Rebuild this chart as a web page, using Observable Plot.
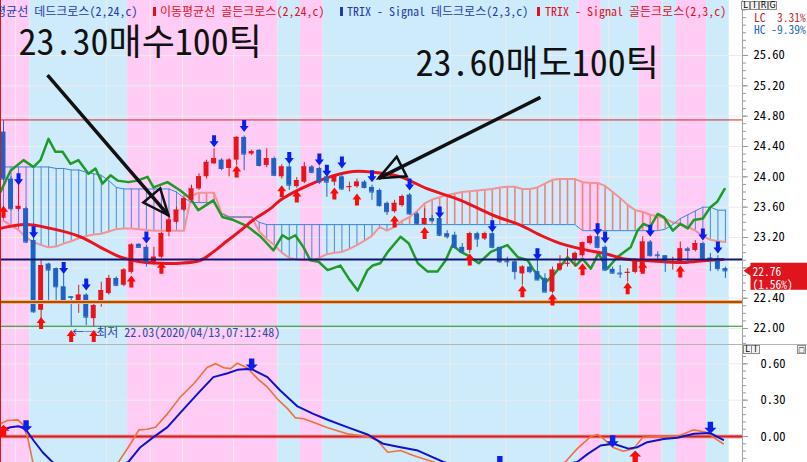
<!DOCTYPE html>
<html><head><meta charset="utf-8">
<script src="https://cdn.jsdelivr.net/npm/d3@7"></script>
<script src="https://cdn.jsdelivr.net/npm/@observablehq/plot@0.6"></script>
<style>
body{margin:0;background:#fff}
#wrap{position:relative;width:807px;height:462px;overflow:hidden;background:#fff}
.abs{position:absolute;white-space:pre}
.leg{position:absolute;white-space:pre;font-family:"Noto Sans Mono CJK KR","Noto Sans CJK KR",sans-serif;font-size:12px;line-height:12px;top:5px}
.mk{position:absolute;top:7px;width:3px;height:9px}
.box{position:absolute;border:1px solid #8c8c8c;background:#f2f2f2;font:8px/8px "DejaVu Sans",sans-serif;text-align:center;color:#000;box-sizing:border-box;width:9px;height:9px}
.hl{position:absolute;white-space:pre;font-family:"Noto Sans Mono CJK KR","DejaVu Sans Mono",monospace;font-size:11.5px;line-height:11px;left:754px}
</style></head><body>
<div id="wrap">
  <div id="top" style="position:absolute;left:0;top:0"></div>
  <div class="abs" style="left:0;top:344px;width:807px;height:1px;background:#b4b4b4"></div>
  <div id="bot" style="position:absolute;left:0;top:345px"></div>
  <div class="abs" style="left:742px;top:0;width:1px;height:462px;background:#a4a4a4"></div>
  <div class="abs" style="left:0;top:0;width:1px;height:462px;background:#e01414"></div>
  <div class="leg" style="left:-27px;color:#1e3ca8">이동평균선 데드크로스(2,24,c)</div>
  <div class="mk" style="left:153px;background:#e0101e"></div>
  <div class="leg" style="left:160px;color:#e0101e">이동평균선 골든크로스(2,24,c)</div>
  <div class="mk" style="left:340px;background:#1e3ca8"></div>
  <div class="leg" style="left:347px;color:#1e3ca8">TRIX - Signal 데드크로스(2,3,c)</div>
  <div class="mk" style="left:537px;background:#e0101e"></div>
  <div class="leg" style="left:545px;color:#e0101e">TRIX - Signal 골든크로스(2,3,c)</div>
  <div class="box" style="left:741px;top:1px">L</div>
  <div class="box" style="left:750px;top:1px">I</div>
  <div class="box" style="left:759px;top:1px">R</div>
  <div class="box" style="left:768px;top:1px">G</div>
  <div class="hl" style="top:12px;color:#c81e1e">LC  3.31%</div>
  <div class="hl" style="top:24px;color:#2864b4">HC -9.39%</div>
  <div class="box" style="left:743px;top:345px">L</div>
  <div class="box" style="left:751px;top:345px">I</div>
  <div class="box" style="left:797px;top:345px;font-size:7px">□</div>
</div>
<script>
// ---------- candle data (index = candle number) ----------
const openP = [24.59,23.97,23.57,23.58,23.16,22.24,22.85,22.79,22.55,22.42,
22.35,22.44,22.13,22.33,22.46,22.66,22.57,22.74,23.11,23.07,
22.85,22.94,23.27,23.40,23.56,23.69,23.84,24.00,24.17,24.22,
24.11,24.22,24.52,24.30,24.35,24.15,24.24,24.00,24.13,23.87,
23.93,24.13,24.11,24.00,23.93,24.00,23.86,23.87,23.93,23.86,
23.82,23.65,23.54,23.62,23.76,23.51,23.37,23.45,23.45,23.25,
23.23,23.07,23.03,23.25,23.18,23.25,23.07,22.89,22.88,22.72,
22.81,22.75,22.66,22.48,22.77,22.85,22.91,22.96,23.12,23.21,
23.07,22.78,22.73,22.73,22.74,22.74,23.14,22.97,22.96,22.87,
22.88,23.05,23.03,23.12,22.93,22.92,22.79];
const highP = [24.74,24.00,23.89,23.60,23.20,22.90,22.86,22.80,22.72,22.42,
22.57,22.46,22.37,22.61,22.70,22.68,22.79,23.12,23.12,23.10,
23.07,23.27,23.49,23.60,23.75,23.89,24.04,24.22,24.37,24.24,
24.24,24.53,24.54,24.35,24.36,24.37,24.26,24.16,24.17,23.99,
24.19,24.15,24.13,24.02,24.02,24.04,23.93,23.97,23.95,23.89,
23.84,23.67,23.69,23.76,23.78,23.53,23.58,23.49,23.47,23.29,
23.27,23.12,23.27,23.27,23.27,23.27,23.07,22.94,22.90,22.83,
22.85,22.90,22.72,22.81,22.96,23.05,23.01,23.14,23.23,23.23,
23.09,22.81,22.83,22.79,22.92,23.21,23.16,23.01,22.96,22.94,
23.14,23.07,23.16,23.14,22.99,22.96,22.81];
const lowP = [23.95,23.55,23.55,23.12,22.20,22.11,22.37,22.37,22.33,22.03,
22.20,22.04,22.02,22.28,22.44,22.55,22.55,22.72,23.06,22.81,
22.83,22.92,23.21,23.38,23.54,23.67,23.82,23.97,24.17,24.08,
24.00,24.15,24.08,24.28,24.13,24.12,24.00,23.97,23.82,23.85,
23.91,24.04,23.90,23.73,23.88,23.82,23.80,23.85,23.84,23.69,
23.60,23.49,23.52,23.60,23.49,23.36,23.36,23.40,23.21,23.18,
23.05,22.99,22.99,23.07,23.16,23.05,22.86,22.81,22.64,22.57,
22.72,22.63,22.48,22.46,22.75,22.81,22.81,22.94,23.10,23.05,
22.75,22.72,22.66,22.61,22.72,22.72,22.94,22.90,22.74,22.77,
22.85,22.85,23.01,22.90,22.75,22.75,22.66];
const closeP = [23.97,23.58,23.61,23.14,22.22,22.83,22.77,22.55,22.35,22.41,
22.44,22.15,22.30,22.50,22.66,22.57,22.77,23.10,23.07,22.88,
22.94,23.25,23.43,23.56,23.71,23.84,24.00,24.19,24.24,24.11,
24.22,24.52,24.30,24.33,24.15,24.24,24.02,24.13,23.89,23.95,
24.13,24.06,23.93,23.93,24.00,23.84,23.87,23.93,23.86,23.80,
23.62,23.54,23.65,23.74,23.51,23.38,23.45,23.42,23.23,23.21,
23.07,23.01,23.25,23.18,23.25,23.07,22.88,22.88,22.75,22.81,
22.75,22.64,22.48,22.77,22.85,22.86,22.99,23.13,23.21,23.07,
22.77,22.73,22.72,22.74,22.90,23.14,22.96,22.96,22.90,22.88,
23.05,23.03,23.12,22.92,22.92,22.79,22.76];

// cloud spans, one value per candle
const spanBlue = [24.13,24.13,24.13,24.13,24.13,24.13,24.13,24.11,24.11,24.09,
24.09,24.06,24.04,24.02,23.95,23.86,23.84,23.84,23.84,23.84,
23.84,23.84,23.84,23.80,23.72,23.66,23.66,23.66,23.66,23.51,
23.47,23.47,23.47,23.47,23.40,23.37,23.37,23.37,23.37,23.37,
23.37,23.37,23.37,23.37,23.37,23.37,23.37,23.37,23.37,23.37,
23.37,23.37,23.37,23.37,23.37,23.37,23.37,23.37,23.37,23.37,
23.37,23.37,23.37,23.37,23.37,23.37,23.37,23.37,23.37,23.37,
23.37,23.37,23.37,23.37,23.37,23.37,23.37,23.29,23.29,23.29,
23.29,23.29,23.29,23.29,23.29,23.29,23.29,23.29,23.31,23.37,
23.45,23.50,23.55,23.60,23.60,23.56,23.56];
const spanPink = [23.42,23.36,23.30,23.20,23.14,23.10,23.07,23.08,23.12,23.15,
23.19,23.22,23.24,23.25,23.28,23.31,23.32,23.32,23.31,23.30,
23.29,23.29,23.29,23.29,23.29,23.75,23.79,23.79,23.79,23.52,
23.47,23.47,23.47,23.47,23.28,23.18,23.10,23.00,22.93,22.91,
22.90,22.90,22.93,22.98,23.00,23.01,23.05,23.10,23.16,23.22,
23.34,23.29,23.34,23.42,23.47,23.55,23.65,23.70,23.73,23.76,
23.78,23.80,23.81,23.82,23.83,23.84,23.86,23.87,23.87,23.84,
23.84,23.86,23.91,23.96,23.97,23.97,23.97,23.93,23.92,23.92,
23.88,23.80,23.72,23.63,23.56,23.54,23.50,23.48,23.45,23.40,
23.38,23.34,23.29,23.22,23.17,23.15,23.14];

// green conversion line: [candle position, price]
const greenX = [-0.4,0.93,2.66,3.99,4.92,5.98,6.91,7.85,8.91,9.97,11.3,12.23,13.16,14.23,15.16,16.6,17.8,19.15,19.95,21.8,23.5,24.9,25.9,27.9,29.1,30.6,32.4,34.2,35.9,37.1,37.9,38.8,39.9,40.8,41.9,43.1,44.8,45.9,47.1,48.4,49.1,50.1,51.1,52.8,53.9,55.1,56.4,57.7,58.8,59.7,60.8,61.8,63.2,64.8,67.0,68.4,69.7,70.5,72.1,73.1,75.0,76.1,77.0,78.1,79.1,80.3,81.6,83.4,84.3,85.1,86.0,87.0,87.8,89.0,90.0,91.0,91.8,93.0,94.0,94.9,95.9];
const greenY = [23.80,24.08,24.22,24.13,24.22,24.50,24.33,24.33,24.17,24.22,24.04,24.11,23.91,24.02,23.95,23.93,23.95,24.00,23.86,23.93,23.82,23.71,23.56,23.69,23.47,23.43,23.35,23.21,23.03,23.23,23.18,23.23,23.07,22.90,22.88,22.77,22.83,22.66,22.50,22.77,22.83,22.86,23.01,23.21,23.12,22.86,22.75,22.75,22.90,23.10,23.01,22.96,22.86,23.01,23.10,22.94,22.90,22.77,22.61,22.70,22.94,22.83,22.92,22.79,22.99,22.79,22.94,23.07,23.29,23.38,23.34,23.51,23.47,23.29,23.38,23.32,23.43,23.45,23.60,23.67,23.84];

// red moving average: [candle position, price]
const maX = [-0.4,2.9,6.25,10.2,12.9,15.6,18.2,20.9,23.5,26.2,27.9,29.8,31.5,33.2,35.5,36.8,39.5,43.1,46.5,49.2,52.8,56.4,60.8,65.2,68.8,71.4,74.1,77.7,80.3,82.4,86.4,90.0,92.7,95.7];
const maY = [23.32,23.37,23.32,23.21,23.07,22.94,22.88,22.86,22.86,22.90,23.01,23.16,23.29,23.43,23.58,23.69,23.84,23.99,24.07,24.06,24.00,23.84,23.69,23.49,23.36,23.23,23.12,23.03,22.98,22.92,22.89,22.87,22.89,22.91];

// signal arrows on the price panel (candle, tip price)
const buyIdx = [0,5,9,12,17,21,31,37,39,44,47,52,56,62,69,73,77,83,85,90];
const buyTip = [23.62,22.15,21.98,21.98,22.70,22.88,24.15,23.89,23.82,23.86,23.78,23.49,23.34,22.99,22.57,22.46,22.86,22.61,22.88,22.83];
const sellIdx = [2,4,8,11,19,28,32,38,42,43,45,49,54,58,65,71,79,80,86,93,95];
const sellTip = [23.89,23.19,22.72,22.50,23.12,24.39,24.59,24.17,24.15,24.00,24.11,23.93,23.82,23.45,23.27,22.90,23.23,23.12,23.21,23.16,22.99];

// background state bands (candle ranges)
const bandFrom = [-0.5,3.5,16.5,36.5,39.5,42.5,76.5,79.5,84.5,87.5,89.5,93.5];
const bandTo   = [3.5,16.5,36.5,39.5,42.5,76.5,79.5,84.5,87.5,89.5,93.5,96.5];
const bandKind = ["golden","dead","golden","dead","golden","dead","golden","dead","golden","dead","golden","dead"];
const gridX = [1.6,13.7,19.5,23.8,30.6,59.4,66.8,72.7,80.5,87.6];

// horizontal levels
const levelHigh = 24.75, levelNavy = 22.91, levelOrange = 22.35, levelLow = 22.03;
const lowNote = "←─최저 22.03(2020/04/13,07:12:48)";
const lowNoteIdx = 9;
const priceTicks = [22.0,22.4,22.8,23.2,23.6,24.0,24.4,24.8,25.2,25.6];
const priceLabels = [22.0,22.4,23.2,23.6,24.0,24.4,24.8,25.2,25.6]; // 22.80 sits under the price tag
const priceTag = ["22.76","(1.56%)"];

// annotations
const noteText = ["23.30매수100틱","23.60매도100틱"];
const noteX = [2.0,54.8], noteY = [25.765,25.48];
const noteFromX = [5.85,71.4], noteFromY = [25.34,25.047];
const noteTipX = [21.94,49.87], noteTipY = [23.492,23.98];
const noteAngle = [50,153];

// TRIX panel: [candle position, value]
const trixX = [-0.4,0.93,2.0,2.9,4.0,5.2,6.5,8,10,13,15,16.6,18.2,19.9,21.8,23.8,25.8,27.9,29.8,31.1,32.4,33.2,35.1,36.8,39.1,41.2,43.1,45.7,48.4,50.5,52.8,55.1,58.5,62,66,70,76.3,77.7,79.4,81.1,83.1,84.3,85.6,87.8,89.6,91.8,94.0,95.7];
const trixY = [0.05,0.077,0.085,0.064,-0.033,-0.13,-0.21,-0.30,-0.36,-0.33,-0.25,-0.21,-0.088,-0.007,0.077,0.215,0.352,0.49,0.522,0.55,0.558,0.55,0.49,0.38,0.248,0.187,0.138,0.077,0.017,-0.06,-0.088,-0.116,-0.21,-0.28,-0.32,-0.29,-0.21,-0.143,-0.074,-0.06,-0.10,-0.088,-0.047,-0.02,-0.011,0.022,0.028,-0.028];
const sigX = [-0.4,0.5,1.9,2.5,3.2,3.9,6,10,13,15.3,16.9,18.0,19.1,20.2,21.8,23.5,25.3,27.1,28.2,29.3,30.2,31.1,32.4,33.8,35.1,36.4,37.8,38.8,39.9,41.2,43.1,45.7,48.4,49.7,51.1,52.8,54.5,57.2,60,65,70,74.7,76.3,78.1,79.0,79.8,81.0,82.4,83.8,85.0,87.4,89.6,91.8,93.6,94.7,95.7];
const sigY = [0.105,0.132,0.137,0.105,-0.006,-0.21,-0.35,-0.42,-0.33,-0.21,-0.06,0.055,0.06,0.077,0.187,0.325,0.435,0.572,0.60,0.567,0.56,0.605,0.567,0.476,0.407,0.311,0.228,0.154,0.146,0.118,0.072,0.022,0.0,-0.033,-0.13,-0.116,-0.157,-0.21,-0.30,-0.36,-0.30,-0.21,-0.10,0.0,0.017,-0.019,-0.088,-0.121,-0.10,-0.006,0.0,0.0,0.055,0.033,-0.019,-0.06];
const trixSellIdx = [3,33,66,81,94], trixSellTip = [0.036,0.545,-0.26,-0.088,0.022];
const trixBuyIdx = [0,84], trixBuyTip = [0.097,-0.115];
const trixTicks = [0,0.3,0.6];

// ---------- build ----------
const xDomain = [-0.4, 98.27];
const N = closeP.length;
const candles = d3.range(N).map(i => ({i, o: openP[i], h: highP[i], l: lowP[i], c: closeP[i]}));
const upCol = "#e8141c", dnCol = "#1f62c4";
const cCol = d => d.c >= d.o ? upCol : dnCol;
const bands = bandFrom.map((f, k) => ({f, t: bandTo[k], kind: bandKind[k]}));
const bandFill = d => d.kind === "golden" ? "#ffccf5" : "#cdebfa";
const cloud = d3.range(N).map(i => ({i, a: spanBlue[i], b: spanPink[i]}));
const green = greenX.map((x, k) => ({x, y: greenY[k]}));
const ma = maX.map((x, k) => ({x, y: maY[k]}));
const buys = buyIdx.map((x, k) => ({x, y: buyTip[k]}));
const sells = sellIdx.map((x, k) => ({x, y: sellTip[k]}));
const notes = noteText.map((t, k) => ({t, x: noteX[k], y: noteY[k], fx: noteFromX[k], fy: noteFromY[k], tx: noteTipX[k], ty: noteTipY[k], a: noteAngle[k]}));
const trix = trixX.map((x, k) => ({x, y: trixY[k]}));
const sig = sigX.map((x, k) => ({x, y: sigY[k]}));
const tSells = trixSellIdx.map((x, k) => ({x, y: trixSellTip[k]}));
const tBuys = trixBuyIdx.map((x, k) => ({x, y: trixBuyTip[k]}));
const lastClose = closeP[N - 1];

const CJK = '"Noto Sans Mono CJK KR","Noto Sans CJK KR",sans-serif';
function downArrow(hw, sw, H, hh) {
  return {draw(c) { c.moveTo(0,0); c.lineTo(hw,-hh); c.lineTo(sw,-hh); c.lineTo(sw,-H); c.lineTo(-sw,-H); c.lineTo(-sw,-hh); c.lineTo(-hw,-hh); c.closePath(); }};
}
function upArrow(hw, sw, H, hh) {
  return {draw(c) { c.moveTo(0,0); c.lineTo(hw,hh); c.lineTo(sw,hh); c.lineTo(sw,H); c.lineTo(-sw,H); c.lineTo(-sw,hh); c.lineTo(-hw,hh); c.closePath(); }};
}
const tri = {draw(c) { c.moveTo(0,0); c.lineTo(-26,-11); c.lineTo(-26,11); c.closePath(); }};
const flag = {draw(c) { c.moveTo(1,0); c.lineTo(8,-5); c.lineTo(8,-8); c.lineTo(70,-8); c.lineTo(70,19); c.lineTo(8,19); c.lineTo(8,5); c.closePath(); }};
const minorTop = d3.range(21.8, 26.31, 0.1);
const minorBot = d3.range(-0.18, 0.75, 0.06);

const topPlot = Plot.plot({
  width: 807, height: 344,
  marginTop: 0, marginRight: 65, marginBottom: 0, marginLeft: 0,
  x: {domain: xDomain, axis: null},
  y: {domain: [21.789, 26.325], axis: null},
  color: {type: "identity"},
  style: {background: "white", fontFamily: CJK, fontSize: "12.5px", overflow: "hidden"},
  marks: [
    Plot.rect(bands, {x1: "f", x2: "t", fill: bandFill}),
    Plot.ruleY(priceTicks, {stroke: "#ececec"}),
    Plot.ruleX(gridX, {stroke: "#ececec"}),
    Plot.ruleY([levelHigh], {stroke: "#d22828", strokeWidth: 1}),
    Plot.ruleX(cloud, {x: "i", y1: "a", y2: "b", stroke: d => d.a >= d.b ? "#4a8ad4" : "#f08080", strokeWidth: d => d.a >= d.b ? 1 : 1.6}),
    Plot.line(cloud, {x: "i", y: "b", stroke: "#f29494", strokeWidth: 2}),
    Plot.line(cloud, {x: "i", y: "a", stroke: "#3c86d6", strokeWidth: 1}),
    Plot.line(green, {x: "x", y: "y", stroke: "#1f9a28", strokeWidth: 2.5}),
    Plot.line(ma, {x: "x", y: "y", stroke: "#e8141e", strokeWidth: 3, curve: "catmull-rom"}),
    Plot.ruleX(candles, {x: "i", y1: "l", y2: "h", stroke: cCol, strokeWidth: 1}),
    Plot.rect(candles, {x1: d => d.i - 0.33, x2: d => d.i + 0.33, y1: "o", y2: "c", fill: cCol}),
    Plot.ruleY(candles, {y: "c", x1: d => d.i - 0.33, x2: d => d.i + 0.33, stroke: cCol}),
    Plot.ruleY([levelNavy], {stroke: "#14146e", strokeWidth: 2}),
    Plot.ruleY([levelOrange], {stroke: "#ebbe6e", strokeWidth: 4}),
    Plot.ruleY([levelOrange], {stroke: "#b4461e", strokeWidth: 2}),
    Plot.ruleY([levelLow], {stroke: "#1e8c1e", strokeWidth: 1}),
    Plot.text([lowNote], {x: () => lowNoteIdx, y: () => levelLow, text: d => d, dx: 1, dy: 7, textAnchor: "start", fill: "#2a4aa8", fontSize: 12, fontFamily: CJK}),
    Plot.dot(sells, {x: "x", y: "y", symbol: downArrow(4.5, 2, 12, 6), fill: "#0a1ef0", stroke: "none"}),
    Plot.dot(buys, {x: "x", y: "y", symbol: upArrow(4.5, 2, 12, 6), fill: "#ff0a0a", stroke: "none"}),
    Plot.link(notes, {x1: "fx", y1: "fy", x2: "tx", y2: "ty", stroke: "#111", strokeWidth: 3.5}),
    Plot.dot(notes, {x: "tx", y: "ty", rotate: "a", symbol: tri, fill: "none", stroke: "#111", strokeWidth: 2.5}),
    Plot.text(notes, {x: "x", y: "y", text: "t", textAnchor: "start", lineAnchor: "middle", fontSize: 36, fontWeight: 300, fill: "#111", fontFamily: CJK}),
    Plot.axisY({anchor: "right", ticks: minorTop, tickSize: 3, tickFormat: () => "", stroke: "#9a9a9a", label: null}),
    Plot.axisY({anchor: "right", ticks: priceTicks, tickSize: 5, tickFormat: () => "", stroke: "#9a9a9a", label: null}),
    Plot.axisY({anchor: "right", ticks: priceLabels, tickSize: 0, tickPadding: 11, tickFormat: d3.format(".2f"), fill: "#000", fontSize: 12.5, label: null}),
    Plot.dot([lastClose], {y: d => d, frameAnchor: "right", symbol: flag, fill: "#e0141c", stroke: "none"}),
    Plot.text([priceTag[0]], {y: () => lastClose, frameAnchor: "right", text: d => d, dx: 10, dy: 1, textAnchor: "start", fill: "white", fontSize: 11.5, fontFamily: CJK}),
    Plot.text([priceTag[1]], {y: () => lastClose, frameAnchor: "right", text: d => d, dx: 10, dy: 14, textAnchor: "start", fill: "white", fontSize: 11.5, fontFamily: CJK})
  ]
});
document.getElementById("top").appendChild(topPlot);

const botPlot = Plot.plot({
  width: 807, height: 117,
  marginTop: 0, marginRight: 65, marginBottom: 0, marginLeft: 0,
  x: {domain: xDomain, axis: null},
  y: {domain: [-0.2145, 0.751], axis: null},
  color: {type: "identity"},
  style: {background: "white", fontFamily: CJK, fontSize: "12.5px", overflow: "hidden"},
  marks: [
    Plot.rect(bands, {x1: "f", x2: "t", fill: bandFill}),
    Plot.ruleY([0.3, 0.6], {stroke: "#ececec"}),
    Plot.ruleX(gridX, {stroke: "#ececec"}),
    Plot.ruleY([0], {stroke: "#f2a0a0", strokeWidth: 4}),
    Plot.ruleY([0], {stroke: "#cf1e24", strokeWidth: 2}),
    Plot.line(sig, {x: "x", y: "y", stroke: "#f0703a", strokeWidth: 1.6, clip: true}),
    Plot.line(trix, {x: "x", y: "y", stroke: "#1212c8", strokeWidth: 2, clip: true}),
    Plot.dot(tSells, {x: "x", y: "y", symbol: downArrow(6, 2.7, 12, 6), fill: "#0a1ef0", stroke: "none"}),
    Plot.dot(tBuys, {x: "x", y: "y", symbol: upArrow(6, 2.7, 12, 6), fill: "#ff0a0a", stroke: "none"}),
    Plot.axisY({anchor: "right", ticks: minorBot, tickSize: 3, tickFormat: () => "", stroke: "#9a9a9a", label: null}),
    Plot.axisY({anchor: "right", ticks: trixTicks, tickSize: 5, tickPadding: 13, tickFormat: d3.format(".2f"), stroke: "#9a9a9a", fill: "#000", fontSize: 12.5, label: null})
  ]
});
document.getElementById("bot").appendChild(botPlot);
</script>
</body></html>
